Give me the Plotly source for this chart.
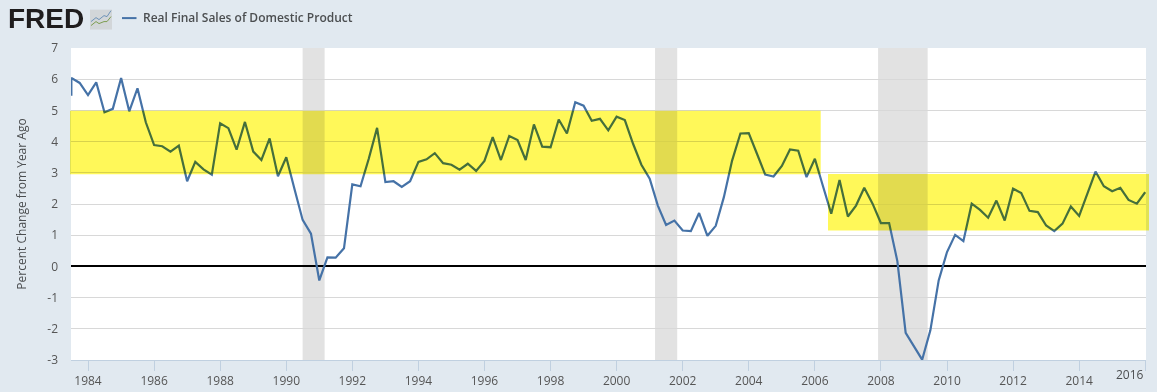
import pandas as pd
import plotly.graph_objects as go

SERIES_NAME = "Real Final Sales of Domestic Product"
Y_TITLE = "Percent Change from Year Ago"
start_value = 5.47
values = [
 6.04,5.88,5.49,5.90,4.94,5.05,6.04,4.97,5.71,4.62,3.89,3.85,3.68,3.87,2.73,3.35,3.11,2.94,4.59,4.43,
 3.74,4.63,3.68,3.41,4.10,2.89,3.50,2.49,1.49,1.05,-0.45,0.29,0.28,0.58,2.63,2.57,3.45,4.44,2.70,2.73,
 2.55,2.73,3.35,3.43,3.63,3.31,3.26,3.10,3.29,3.06,3.38,4.14,3.41,4.18,4.05,3.41,4.55,3.84,3.82,4.71,
 4.26,5.26,5.15,4.67,4.73,4.36,4.80,4.69,3.93,3.26,2.81,1.95,1.33,1.47,1.15,1.13,1.71,0.98,1.30,2.22,
 3.39,4.26,4.27,3.61,2.94,2.88,3.22,3.75,3.71,2.86,3.45,2.57,1.69,2.77,1.60,1.95,2.52,2.01,1.39,1.39,
 0.17,-2.13,-2.58,-2.99,-2.05,-0.45,0.46,1.01,0.81,2.01,1.81,1.56,2.11,1.47,2.49,2.35,1.78,1.74,1.31,1.13,
 1.37,1.92,1.62,2.33,3.04,2.57,2.41,2.52,2.13,2.01,2.38]
dates = pd.date_range("1983-07-01", periods=len(values), freq="QS")
xs = [dates[0]] + list(dates)
ys = [start_value] + values

recessions = [("1990-07-01","1991-03-01"),("2001-03-01","2001-11-01"),("2007-12-01","2009-06-01")]
y_ticks = list(range(-3, 8))
x_tick_years = list(range(1984, 2017, 2))

BG = "#E1E9F0"
TXT = "#555555"
FONT = "Open Sans"
BLUE = "#4572A7"
W, H = 1157, 392
L, R, T, B = 71, 11, 47.5, 31.5
PW, PH = W-L-R, H-T-B

def px(x):
    return (x-L)/PW
def py(y):
    return 1-(y-T)/PH

shapes = []
for a, b in recessions:
    shapes.append(dict(type="rect", xref="x", yref="paper", x0=a, x1=b, y0=0, y1=1,
                       fillcolor="#E2E2E2", line_width=0, layer="below"))
YEL = "rgba(255,245,0,0.65)"
shapes.append(dict(type="rect", xref="paper", yref="y", x0=px(70), x1=px(820.7), y0=2.95, y1=4.99,
                   fillcolor=YEL, line_width=0, layer="above"))
shapes.append(dict(type="rect", xref="paper", yref="y", x0=px(828), x1=px(1149), y0=1.15, y1=2.96,
                   fillcolor=YEL, line_width=0, layer="above"))
# small logo icon
def box(x0,y0,x1,y1,**k):
    return dict(type="rect", xref="paper", yref="paper", x0=px(x0), x1=px(x1), y0=py(y1), y1=py(y0), line_width=0, layer="below", **k)
shapes.append(box(90,9,112,29,fillcolor="#D2D6D9"))
def poly(pts,color,width=1):
    d = "M"+" L".join(f"{px(a):.5f},{py(b):.5f}" for a,b in pts)
    return dict(type="path", xref="paper", yref="paper", path=d, line=dict(color=color,width=width), layer="below")
shapes.append(poly([(91,21),(96,17),(99,19),(104,15),(107,16),(111,10)],"#6E93B8"))
shapes.append(poly([(91,25),(96,21),(99,23),(104,21),(107,21),(111,16)],"#7E9E52"))
# legend key
shapes.append(poly([(122,17.5),(136.5,17.5)],BLUE,2))

annotations = [
    dict(text="<b>FRED</b>", xref="paper", yref="paper", x=px(6), y=py(18), xanchor="left", yanchor="middle",
         showarrow=False, font=dict(family="Liberation Sans", size=28, color="#231F20")),
    dict(text=SERIES_NAME, xref="paper", yref="paper", x=px(140.5), y=py(17), xanchor="left", yanchor="middle",
         showarrow=False, font=dict(family=FONT, size=12, color="#555555", weight=600)),
    dict(text="2016", xref="x", yref="paper", x="2016-01-01", y=py(375), xanchor="right", yanchor="middle",
         showarrow=False, xshift=1, font=dict(family=FONT, size=12, color=TXT)),
]

fig = go.Figure(go.Scatter(x=xs, y=ys, mode="lines", name=SERIES_NAME,
                           line=dict(color=BLUE, width=2.2), showlegend=False, hoverinfo="skip"))
fig.update_layout(
    width=W, height=H, margin=dict(l=L, r=R, t=T, b=B, autoexpand=False),
    paper_bgcolor=BG, plot_bgcolor="#FFFFFF",
    font=dict(family=FONT, size=12, color=TXT),
    shapes=shapes, annotations=annotations,
    xaxis=dict(type="date", range=["1983-06-27","2016-01-10"],
               tickmode="array", tickvals=[f"{y}-01-01" for y in x_tick_years],
               ticktext=[str(y) if y != 2016 else "" for y in x_tick_years],
               showgrid=False, showline=True, linecolor="#C0D0E0", linewidth=1,
               ticks="outside", ticklen=10, tickcolor="#C0D0E0", tickwidth=1,
               tickfont=dict(family=FONT, size=12, color=TXT)),
    yaxis=dict(range=[-3, 7], tickmode="array", tickvals=y_ticks, ticktext=[str(v) for v in y_ticks],
               showgrid=True, gridcolor="#D8D8D8", gridwidth=1,
               zeroline=True, zerolinecolor="#000000", zerolinewidth=2,
               showline=False, ticks="", ticklabelstandoff=12, tickfont=dict(family=FONT, size=12, color=TXT),
               title=dict(text=Y_TITLE, standoff=18, font=dict(family=FONT, size=12, color=TXT))),
)
post = """
document.documentElement.style.margin = '0';
document.body.style.margin = '0';
document.body.style.overflow = 'hidden';
document.documentElement.style.background = '#E1E9F0';
document.querySelectorAll('.main-svg').forEach(function(s){
  if (s.querySelector('.layer-above .shapelayer path')) { s.style.mixBlendMode = 'multiply'; }
});
"""
fig.write_html("out.html", post_script=post, config=dict(displayModeBar=False))
